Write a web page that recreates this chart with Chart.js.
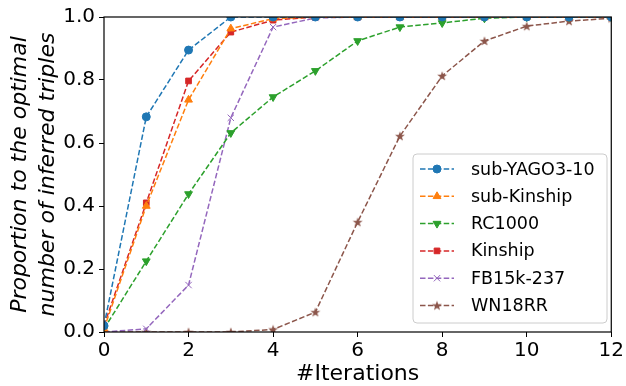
<!DOCTYPE html>
<html>
<head>
<meta charset="utf-8">
<script src="https://cdn.jsdelivr.net/npm/chart.js@4/dist/chart.umd.min.js"></script>
<style>
  html, body { margin: 0; padding: 0; background: #fff; }
  canvas { display: block; }
</style>
</head>
<body>
<canvas id="chart" width="626" height="386"></canvas>
<script>
// x values (iterations)
const iterations = [0, 1, 2, 3, 4, 5, 6, 7, 8, 9, 10, 11, 12];

// proportion to optimal number of inferred triples, per dataset
const subYago = [0.02, 0.683, 0.895, 1.0, 1.0, 1.0, 1.0, 1.0, 1.0, 1.0, 1.0, 1.0, 1.0];
const subKinship = [0.01, 0.40, 0.737, 0.963, 0.995, 1.0, 1.0, 1.0, 1.0, 1.0, 1.0, 1.0, 1.0];
const rc1000 = [0.01, 0.225, 0.438, 0.632, 0.746, 0.829, 0.924, 0.968, 0.981, 0.996, 1.0, 1.0, 1.0];
const kinship = [0.02, 0.41, 0.797, 0.952, 0.99, 1.0, 1.0, 1.0, 1.0, 1.0, 1.0, 1.0, 1.0];
const fb15k = [0.0, 0.01, 0.149, 0.68, 0.968, 0.997, 1.0, 1.0, 1.0, 1.0, 1.0, 1.0, 1.0];
const wn18rr = [0.0, 0.0, 0.0, 0.0, 0.008, 0.063, 0.349, 0.622, 0.813, 0.924, 0.971, 0.987, 0.996];

const xTicks = [0, 2, 4, 6, 8, 10, 12];
const yTicks = [0.0, 0.2, 0.4, 0.6, 0.8, 1.0];

const FONT = "'DejaVu Sans', sans-serif";

// filled 5-point star like matplotlib's '*' marker
function makeStar(color) {
  const c = document.createElement("canvas");
  c.width = 12;
  c.height = 12;
  const g = c.getContext("2d");
  g.fillStyle = color;
  g.beginPath();
  for (let i = 0; i < 10; i++) {
    const r = i % 2 === 0 ? 5.2 : 2.1;
    const a = -Math.PI / 2 + (i * Math.PI) / 5;
    const px = 6 + r * Math.cos(a);
    const py = 6.4 + r * Math.sin(a);
    if (i === 0) g.moveTo(px, py);
    else g.lineTo(px, py);
  }
  g.closePath();
  g.fill();
  return c;
}

function toPoints(values) {
  return values.map((v, i) => ({ x: iterations[i], y: v }));
}

function series(label, values, color, style, extra = {}) {
  return Object.assign({
    label,
    data: toPoints(values),
    borderColor: color,
    backgroundColor: color,
    borderWidth: 1.5,
    borderDash: [5.5, 2.4],
    pointStyle: style,
    pointRadius: 4,
    pointHoverRadius: 4,
    pointBorderWidth: 1,
    pointBorderColor: color,
    pointBackgroundColor: color,
    tension: 0,
    fill: false,
    clip: 0,
  }, extra);
}

const datasets = [
  series("sub-YAGO3-10", subYago, "#1f77b4", "circle"),
  series("sub-Kinship", subKinship, "#ff7f0e", "triangle", { pointRadius: 4.5 }),
  series("RC1000", rc1000, "#2ca02c", "triangle", { pointRotation: 180, pointRadius: 4.5 }),
  series("Kinship", kinship, "#d62728", "rect", { pointRadius: 4 }),
  series("FB15k-237", fb15k, "#9467bd", "crossRot", { pointRadius: 4.5 }),
  series("WN18RR", wn18rr, "#8c564b", makeStar("#8c564b")),
];

// axes frame drawn on top like matplotlib spines
const framePlugin = {
  id: "frame",
  afterDatasetsDraw(chart) {
    const { ctx, chartArea: a } = chart;
    ctx.save();
    ctx.strokeStyle = "#000";
    ctx.lineWidth = 1.2;
    ctx.strokeRect(a.left, a.top, a.right - a.left, a.bottom - a.top);
    ctx.restore();
  },
};

// legend box inside the lower right of the plot
const legendPlugin = {
  id: "innerLegend",
  afterDraw(chart) {
    const { ctx } = chart;
    const sets = chart.data.datasets;
    const box = { x: 413, y: 154, w: 194, h: 169 };
    const rowStart = 169;
    const rowStep = 27.3;

    ctx.save();
    ctx.beginPath();
    ctx.roundRect(box.x, box.y, box.w, box.h, 4);
    ctx.fillStyle = "rgba(255,255,255,0.8)";
    ctx.fill();
    ctx.strokeStyle = "#cccccc";
    ctx.lineWidth = 1;
    ctx.stroke();

    sets.forEach((ds, i) => {
      const y = rowStart + i * rowStep;
      ctx.save();
      ctx.strokeStyle = ds.borderColor;
      ctx.lineWidth = ds.borderWidth;
      ctx.setLineDash(ds.borderDash);
      ctx.beginPath();
      ctx.moveTo(420, y);
      ctx.lineTo(454, y);
      ctx.stroke();
      ctx.restore();

      ctx.save();
      ctx.fillStyle = ds.pointBackgroundColor;
      ctx.strokeStyle = ds.pointBorderColor;
      ctx.lineWidth = 1;
      Chart.helpers.drawPoint(ctx, {
        pointStyle: ds.pointStyle,
        rotation: ds.pointRotation || 0,
        radius: ds.pointRadius,
        borderWidth: 1,
      }, 437, y);
      ctx.restore();

      ctx.fillStyle = "#000";
      ctx.font = "17.5px " + FONT;
      ctx.textBaseline = "middle";
      ctx.textAlign = "left";
      ctx.fillText(ds.label, 471, y + 1);
    });
    ctx.restore();
  },
};

new Chart(document.getElementById("chart"), {
  type: "line",
  data: { datasets },
  options: {
    responsive: false,
    animation: false,
    layout: { padding: { top: 17, right: 10, left: 0, bottom: 0 } },
    plugins: {
      legend: { display: false },
      tooltip: { enabled: false },
    },
    scales: {
      x: {
        type: "linear",
        min: 0,
        max: 12,
        afterFit(scale) { scale.height = 54; },
        afterBuildTicks(scale) { scale.ticks = xTicks.map(v => ({ value: v })); },
        border: { display: false },
        grid: { drawOnChartArea: false, drawTicks: true, tickLength: 5, color: "#000", lineWidth: 1 },
        ticks: {
          color: "#000",
          padding: 2,
          font: { family: FONT, size: 20 },
          callback: v => String(v),
        },
        title: {
          display: true,
          text: "#Iterations",
          color: "#000",
          padding: { top: 0, bottom: -1 },
          font: { family: FONT, size: 22 },
        },
      },
      y: {
        type: "linear",
        min: 0,
        max: 1,
        afterFit(scale) { scale.width = 104; },
        afterBuildTicks(scale) { scale.ticks = yTicks.map(v => ({ value: v })); },
        border: { display: false },
        grid: { drawOnChartArea: false, drawTicks: true, tickLength: 5, color: "#000", lineWidth: 1 },
        ticks: {
          color: "#000",
          padding: 4,
          font: { family: FONT, size: 20 },
          callback: v => Number(v).toFixed(1),
        },
        title: {
          display: true,
          text: ["Proportion to the optimal", "number of inferred triples"],
          color: "#000",
          padding: { top: 6, bottom: 0 },
          font: { family: FONT, size: 22, style: "italic", lineHeight: "28px" },
        },
      },
    },
  },
  plugins: [framePlugin, legendPlugin],
});
</script>
</body>
</html>
